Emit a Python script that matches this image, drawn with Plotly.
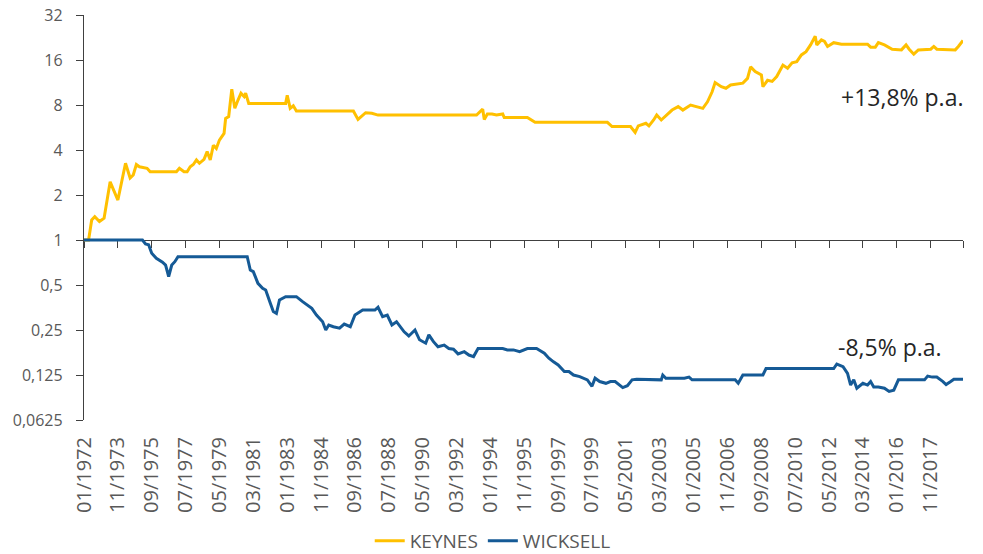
import math
import plotly.graph_objects as go

# ---- data ----
keynes_dates = [
    "1972-01", "1972-04", "1972-06", "1972-08", "1972-11", "1973-02", "1973-06", "1973-09",
    "1973-11", "1974-04", "1974-07", "1974-09", "1974-11", "1975-01", "1975-04", "1975-06",
    "1975-08", "1977-01", "1977-03", "1977-06", "1977-08", "1977-10", "1977-12", "1978-02",
    "1978-04", "1978-07", "1978-09", "1978-11", "1979-01", "1979-03", "1979-05", "1979-08",
    "1979-09", "1979-11", "1980-01", "1980-03", "1980-05", "1980-07", "1980-09", "1980-10",
    "1980-12", "1982-12", "1983-01", "1983-03", "1983-05", "1983-07", "1986-08", "1986-11",
    "1987-04", "1987-08", "1987-12", "1993-04", "1993-08", "1993-09", "1993-11", "1994-02",
    "1994-05", "1994-09", "1994-10", "1996-01", "1996-06", "2000-05", "2000-08", "2001-08",
    "2001-11", "2002-01", "2002-06", "2002-08", "2002-11", "2003-01", "2003-04", "2003-08",
    "2003-11", "2004-03", "2004-06", "2004-11", "2005-03", "2005-07", "2005-10", "2006-01",
    "2006-03", "2006-07", "2006-10", "2007-01", "2007-09", "2007-12", "2008-02", "2008-05",
    "2008-09", "2008-10", "2009-01", "2009-04", "2009-07", "2009-11", "2010-02", "2010-05",
    "2010-08", "2010-11", "2011-02", "2011-05", "2011-08", "2011-09", "2011-12", "2012-02",
    "2012-04", "2012-08", "2013-01", "2014-06", "2014-08", "2014-11", "2015-01", "2015-05",
    "2015-10", "2016-04", "2016-07", "2016-09", "2016-12", "2017-03", "2017-11", "2018-01",
    "2018-03", "2019-03", "2019-05", "2019-08",
]
keynes_values = [
    1.0, 1.0, 1.36, 1.43, 1.33, 1.40, 2.45, 2.06,
    1.85, 3.26, 2.6, 2.72, 3.2, 3.09, 3.05, 3.02,
    2.86, 2.86, 3.02, 2.86, 2.86, 3.09, 3.2, 3.43,
    3.26, 3.46, 3.9, 3.43, 4.3, 4.1, 4.66, 5.17,
    6.5, 6.7, 10.2, 7.6, 8.6, 9.6, 9.1, 9.6,
    8.2, 8.2, 9.3, 7.6, 7.9, 7.3, 7.3, 6.4,
    7.1, 7.05, 6.85, 6.85, 7.5, 6.4, 6.96, 6.96,
    6.85, 6.96, 6.6, 6.6, 6.13, 6.13, 5.74, 5.74,
    5.25, 5.8, 6.04, 5.8, 6.35, 6.85, 6.35, 6.96,
    7.4, 7.8, 7.4, 8.0, 7.8, 7.6, 8.4, 9.8,
    11.3, 10.6, 10.35, 10.9, 11.2, 12.05, 14.4, 13.4,
    12.7, 10.6, 11.7, 11.5, 12.4, 14.8, 14.1, 15.3,
    15.6, 17.3, 18.2, 20.2, 23.1, 20.2, 21.8, 21.3,
    19.7, 20.9, 20.4, 20.4, 19.5, 19.5, 20.9, 20.2,
    18.9, 18.7, 20.2, 18.9, 17.5, 18.7, 18.9, 19.7,
    18.9, 18.7, 19.7, 21.6,
]

wicksell_dates = [
    "1972-01", "1975-03", "1975-05", "1975-07", "1975-09", "1975-12", "1976-04", "1976-06",
    "1976-08", "1976-10", "1976-12", "1977-02", "1980-11", "1981-01", "1981-03", "1981-06",
    "1981-09", "1981-11", "1982-02", "1982-04", "1982-06", "1982-08", "1982-12", "1983-07",
    "1983-11", "1984-02", "1984-05", "1984-08", "1984-12", "1985-02", "1985-04", "1985-07",
    "1985-11", "1986-02", "1986-06", "1986-09", "1987-02", "1987-10", "1987-12", "1988-03",
    "1988-06", "1988-09", "1988-12", "1989-05", "1989-08", "1989-12", "1990-03", "1990-07",
    "1990-09", "1990-12", "1991-03", "1991-07", "1991-10", "1992-01", "1992-04", "1992-08",
    "1992-11", "1993-02", "1993-05", "1994-09", "1994-12", "1995-04", "1995-08", "1996-01",
    "1996-07", "1996-12", "1997-03", "1997-06", "1997-09", "1998-01", "1998-04", "1998-07",
    "1998-11", "1999-04", "1999-07", "1999-09", "1999-12", "2000-04", "2000-07", "2000-10",
    "2001-03", "2001-06", "2001-09", "2001-12", "2002-07", "2003-04", "2003-05", "2003-07",
    "2004-07", "2004-10", "2004-12", "2007-04", "2007-06", "2007-09", "2008-10", "2008-12",
    "2012-08", "2012-10", "2013-02", "2013-05", "2013-07", "2013-09", "2013-11", "2014-03",
    "2014-06", "2014-08", "2014-10", "2015-01", "2015-05", "2015-08", "2015-11", "2016-02",
    "2017-07", "2017-09", "2017-12", "2018-03", "2018-07", "2018-09", "2018-12", "2019-02",
    "2019-08",
]
wicksell_values = [
    1.0, 1.0, 0.94, 0.93, 0.815, 0.754, 0.71, 0.68,
    0.57, 0.68, 0.716, 0.774, 0.774, 0.63, 0.614, 0.513,
    0.475, 0.463, 0.377, 0.332, 0.323, 0.397, 0.418, 0.418,
    0.387, 0.367, 0.349, 0.315, 0.284, 0.25, 0.27, 0.263,
    0.257, 0.274, 0.263, 0.315, 0.34, 0.34, 0.355, 0.307,
    0.315, 0.27, 0.284, 0.243, 0.228, 0.25, 0.215, 0.204,
    0.232, 0.209, 0.193, 0.198, 0.188, 0.186, 0.173, 0.179,
    0.17, 0.166, 0.188, 0.188, 0.184, 0.184, 0.179, 0.188,
    0.188, 0.175, 0.162, 0.153, 0.146, 0.132, 0.132, 0.125,
    0.122, 0.116, 0.105, 0.119, 0.113, 0.11, 0.113, 0.113,
    0.103, 0.106, 0.116, 0.117, 0.117, 0.116, 0.125, 0.119,
    0.119, 0.121, 0.116, 0.116, 0.11, 0.125, 0.125, 0.138,
    0.138, 0.148, 0.142, 0.128, 0.107, 0.116, 0.102, 0.11,
    0.107, 0.113, 0.104, 0.104, 0.102, 0.097, 0.099, 0.116,
    0.116, 0.123, 0.121, 0.121, 0.113, 0.108, 0.113, 0.117,
    0.117,
]

x_tick_dates = [
    "1972-01", "1973-11", "1975-09", "1977-07", "1979-05", "1981-03", "1983-01", "1984-11",
    "1986-09", "1988-07", "1990-05", "1992-03", "1994-01", "1995-11", "1997-09", "1999-07",
    "2001-05", "2003-03", "2005-01", "2006-11", "2008-09", "2010-07", "2012-05", "2014-03",
    "2016-01", "2017-11",
]
x_tick_labels = [s[5:7] + "/" + s[0:4] for s in x_tick_dates]
x_end = "2019-08"

y_tick_vals = [0.0625, 0.125, 0.25, 0.5, 1, 2, 4, 8, 16, 32]
y_tick_labels = ["0,0625", "0,125", "0,25", "0,5", "1", "2", "4", "8", "16", "32"]

series_names = ["KEYNES", "WICKSELL"]
series_colors = ["#FFC000", "#155A96"]
annotation_texts = ["+13,8% p.a.", "-8,5% p.a."]

# ---- figure ----
FONT = "Open Sans"
GREY = "#595959"
AXIS = "#404040"


def d(s):
    return s + "-01"


fig = go.Figure()
fig.add_trace(go.Scatter(
    x=[d(s) for s in keynes_dates], y=keynes_values, mode="lines", name=series_names[0],
    line=dict(color=series_colors[0], width=3), xaxis="x", yaxis="y",
))
fig.add_trace(go.Scatter(
    x=[d(s) for s in wicksell_dates], y=wicksell_values, mode="lines", name=series_names[1],
    line=dict(color=series_colors[1], width=3), xaxis="x2", yaxis="y",
))

x_range = [d(keynes_dates[0]), d(x_end)]
y_range = [math.log10(y_tick_vals[0]), math.log10(y_tick_vals[-1])]
pos_one = (math.log10(1) - y_range[0]) / (y_range[1] - y_range[0])

fig.update_layout(
    width=983, height=554,
    margin=dict(l=84, r=20, t=15, b=134, autoexpand=False),
    paper_bgcolor="white", plot_bgcolor="white",
    font=dict(family=FONT, color=GREY),
    showlegend=True,
    legend=dict(
        orientation="h", x=0.465, y=-0.2988, xanchor="center", yanchor="middle",
        font=dict(family=FONT, size=19, color=GREY), traceorder="normal",
        itemwidth=30,
    ),
    # bottom axis: tick labels only
    xaxis=dict(
        type="date", range=x_range, anchor="y", side="bottom",
        showgrid=False, zeroline=False, showline=False, ticks="",
        tickvals=[d(s) for s in x_tick_dates], ticktext=x_tick_labels,
        tickangle=-90, tickfont=dict(family=FONT, size=20, color=GREY),
        ticklabelstandoff=12,
    ),
    # axis line crossing at y = 1, tick marks only
    xaxis2=dict(
        type="date", range=x_range, matches="x", overlaying="x",
        anchor="free", position=pos_one,
        showgrid=False, zeroline=False,
        showline=True, linecolor=AXIS, linewidth=1.3,
        ticks="outside", ticklen=7, tickwidth=1.3, tickcolor=AXIS,
        tickvals=[d(s) for s in x_tick_dates] + [d(x_end)],
        showticklabels=False, layer="below traces",
    ),
    yaxis=dict(
        type="log", range=y_range, domain=[0, 1],
        showgrid=False, zeroline=False,
        showline=True, linecolor=AXIS, linewidth=1.3,
        ticks="outside", ticklen=7, tickwidth=1.3, tickcolor=AXIS,
        tickvals=y_tick_vals, ticktext=y_tick_labels,
        tickfont=dict(family=FONT, size=16, color=GREY),
        ticklabelstandoff=10,
    ),
    annotations=[
        dict(text=annotation_texts[0], xref="paper", yref="paper", x=0.9306, y=0.7975,
             xanchor="center", yanchor="middle", showarrow=False,
             font=dict(family=FONT, size=23, color="#262626")),
        dict(text=annotation_texts[1], xref="paper", yref="paper", x=0.917, y=0.180,
             xanchor="center", yanchor="middle", showarrow=False,
             font=dict(family=FONT, size=23, color="#262626")),
    ],
)

fig.write_html("out.html")
